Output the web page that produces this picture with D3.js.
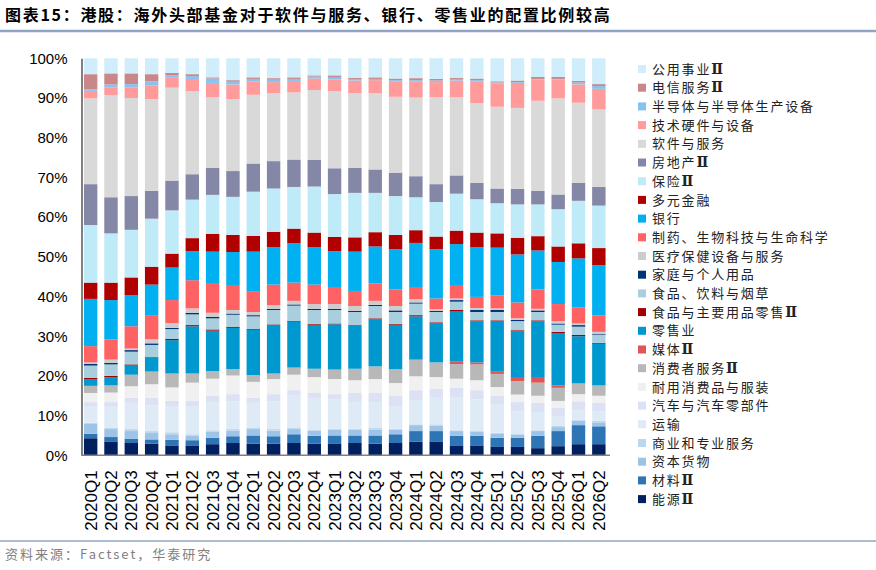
<!DOCTYPE html>
<html><head><meta charset="utf-8">
<script src="https://cdn.jsdelivr.net/npm/d3@7/dist/d3.min.js"></script>
<style>body{margin:0;background:#fff;}svg{display:block;}</style>
</head><body>
<svg id="c" width="876" height="570"></svg>
<script>
const categories = ["2020Q1","2020Q2","2020Q3","2020Q4","2021Q1","2021Q2","2021Q3","2021Q4","2022Q1","2022Q2","2022Q3","2022Q4","2023Q1","2023Q2","2023Q3","2023Q4","2024Q1","2024Q2","2024Q3","2024Q4","2025Q1","2025Q2","2025Q3","2025Q4","2026Q1","2026Q2"];
const yTicks = [0,10,20,30,40,50,60,70,80,90,100];

// series values (%)
const utilities   = [4.0,3.8,3.8,4.0,3.7,4.0,4.8,5.5,4.8,5.0,4.8,4.3,4.3,4.9,4.8,5.1,5.0,5.2,4.9,5.1,5.8,5.6,4.7,4.7,5.7,6.5];
const telecom     = [3.8,2.8,2.7,1.8,0.6,0.5,0.3,0.4,0.4,0.4,0.4,0.3,0.4,0.3,0.4,0.4,0.5,0.4,0.3,0.4,0.3,0.4,0.5,0.5,0.4,0.5];
const semis       = [0.4,0.7,0.8,1.0,0.6,0.7,1.1,0.7,0.7,0.6,0.5,0.5,0.6,0.4,0.3,0.4,0.4,0.4,0.4,0.4,0.3,0.2,0.2,0.2,0.5,0.7];
const techHw      = [1.9,2.0,2.7,3.5,2.5,3.1,3.6,3.7,3.3,2.8,2.9,2.9,3.0,3.2,3.3,3.8,4.0,3.8,4.2,5.4,5.8,6.3,5.3,4.7,4.6,5.2];
const software    = [21.6,25.7,24.7,23.1,23.4,20.9,17.8,18.1,17.3,17.1,16.9,17.6,19.4,18.8,19.2,19.1,19.8,21.9,19.7,20.1,20.6,20.4,22.7,24.2,20.2,19.5];
const realEstate  = [10.3,9.1,8.5,7.0,7.5,6.4,6.8,6.5,7.1,6.9,6.9,6.7,6.5,6.3,5.9,5.9,5.3,4.5,4.6,4.1,3.7,3.9,3.4,3.7,4.5,4.7];
const insurance   = [14.5,12.4,12.0,12.1,10.9,9.7,9.8,9.6,11.1,10.9,10.5,11.6,10.8,11.2,9.9,9.8,8.3,8.7,9.3,8.4,7.6,8.4,8.0,9.4,10.7,10.7];
const divFin      = [4.1,4.4,4.5,4.5,3.5,3.3,4.5,4.3,4.0,3.9,3.7,3.7,3.6,3.6,3.6,3.6,3.2,3.2,3.4,3.7,3.6,4.2,3.6,3.9,3.8,4.3];
const banks       = [11.9,9.9,7.8,7.7,8.2,7.3,7.9,8.3,10.1,9.4,9.9,9.4,9.0,9.9,9.3,10.1,11.1,12.4,10.3,12.5,12.0,12.1,9.8,10.6,12.4,12.7];
const pharma      = [4.1,5.1,5.6,6.1,5.8,7.1,7.5,6.3,5.1,5.2,4.6,4.9,4.3,3.8,4.4,4.2,3.1,2.7,3.4,2.8,3.3,4.0,4.9,4.3,4.0,4.1];
const healthEq    = [0.4,0.8,0.4,1.0,1.2,1.1,1.0,0.9,0.8,0.9,0.9,1.2,1.2,1.2,1.0,1.1,0.8,0.4,0.4,0.5,0.4,0.4,0.4,0.6,0.4,0.6];
const household   = [0.4,0.4,0.4,0.4,0.3,0.4,0.4,0.3,0.3,0.3,0.3,0.3,0.3,0.3,0.3,0.4,0.3,0.3,0.4,0.5,0.5,0.3,0.4,0.3,0.4,0.2];
const foodBev     = [3.1,2.9,3.2,3.1,2.5,2.7,2.8,3.0,3.2,3.6,3.9,3.5,3.4,3.2,3.1,3.0,2.9,2.6,2.1,2.1,2.1,2.3,2.1,1.8,2.1,2.0];
const foodRetail  = [0.3,0.3,0.3,0.2,0.3,0.3,0.3,0.3,0.2,0.1,0.2,0.2,0.2,0.1,0.2,0.2,0.3,0.2,0.4,0.2,0.3,0.3,0.2,0.3,0.3,0.2];
const retail      = [1.7,2.1,2.3,3.4,8.4,11.9,10.2,10.4,11.4,12.3,11.5,11.1,11.4,11.0,11.9,11.2,10.9,9.9,12.5,10.4,12.5,11.7,14.3,13.2,11.9,10.5];
const media       = [0,0,0,0,0,0,0,0,0,0,0,0,0,0,0,0,0,0,0.7,0.5,0.7,0.8,1.2,0.6,0,0];
const consumerSvc = [1.8,1.8,2.9,3.2,3.5,2.3,1.9,1.6,1.7,1.4,1.8,2.1,2.4,2.9,3.2,3.5,4.2,3.7,3.7,4.0,3.3,3.4,3.3,3.3,2.7,2.6];
const durables    = [2.3,2.4,2.9,3.4,3.4,4.6,4.3,4.7,4.0,3.8,3.9,4.0,3.8,3.2,3.5,3.1,3.5,3.0,2.3,2.5,2.2,1.9,1.8,1.8,1.8,1.7];
const autos       = [1.0,1.0,1.3,1.9,1.3,1.3,1.6,1.8,1.3,1.8,1.4,1.3,1.4,2.3,2.3,2.7,2.5,2.2,2.3,2.3,2.1,2.3,2.3,2.2,2.3,2.3];
const transport   = [4.2,5.5,6.6,6.5,6.6,7.1,7.1,7.0,6.2,7.0,8.0,7.9,7.3,6.7,6.5,5.7,6.1,6.7,8.4,7.9,7.2,5.6,4.6,2.3,2.3,2.3];
const commercial  = [0.3,0.3,0.5,0.5,0.5,0.3,0.4,0.4,0.4,0.4,0.4,0.3,0.2,0.2,0.4,0.2,0.2,0.4,0.2,0.2,0.2,0.3,0.2,0.3,0.3,0.4];
const capGoods    = [2.5,2.0,1.9,1.6,1.4,1.2,1.5,1.4,1.6,1.4,1.3,1.3,1.5,1.5,1.5,1.2,1.5,1.3,1.2,1.1,1.1,0.8,1.2,1.0,1.1,1.0];
const materials   = [1.1,1.1,1.1,1.1,1.4,1.3,1.6,1.7,2.1,1.9,2.2,2.0,2.0,1.9,2.1,2.2,2.7,2.6,2.4,2.4,2.3,2.3,3.1,3.8,4.8,4.5];
const energy      = [4.3,3.5,3.1,2.9,2.5,2.5,2.8,3.1,2.9,2.9,3.1,2.9,3.0,3.1,2.9,3.1,3.4,3.5,2.5,2.5,2.1,2.1,1.8,2.3,2.8,2.8];

// legend order (top of stack first)
const seriesNames = ["公用事业Ⅱ","电信服务Ⅱ","半导体与半导体生产设备","技术硬件与设备","软件与服务","房地产Ⅱ","保险Ⅱ","多元金融","银行","制药、生物科技与生命科学","医疗保健设备与服务","家庭与个人用品","食品、饮料与烟草","食品与主要用品零售Ⅱ","零售业","媒体Ⅱ","消费者服务Ⅱ","耐用消费品与服装","汽车与汽车零部件","运输","商业和专业服务","资本货物","材料Ⅱ","能源Ⅱ"];
const seriesValues = [utilities,telecom,semis,techHw,software,realEstate,insurance,divFin,banks,pharma,healthEq,household,foodBev,foodRetail,retail,media,consumerSvc,durables,autos,transport,commercial,capGoods,materials,energy];
const seriesColors = ["#CFEDFA","#C9878A","#86C3F0","#FF9B9B","#D9D9D9","#8488A6","#BFEAF8","#B00000","#00B0F0","#FF6262","#CCCCCC","#003478","#A9CFDF","#A00000","#0099CF","#E05555","#B8B8B8","#F0F0F0","#DCE2F4","#DEEAF6","#BDD7EE","#9DC3E6","#2E75B6","#002060"];

const svg = d3.select("#c");
const plotLeft = 81.5, plotRight = 609, plotTop = 58.3, plotBottom = 455.3;

// Title & frame lines
svg.append("text").attr("x",5).attr("y",21)
  .style("font-family","'Noto Sans CJK SC'").style("font-weight","bold").style("font-size","16px")
  .style("letter-spacing","1.7px").attr("fill","#000")
  .text("图表15：港股：海外头部基金对于软件与服务、银行、零售业的配置比例较高");
svg.append("line").attr("x1",0).attr("x2",876).attr("y1",31).attr("y2",31).attr("stroke","#8FA5C3").attr("stroke-width",2.5);
svg.append("line").attr("x1",0).attr("x2",876).attr("y1",541).attr("y2",541).attr("stroke","#8FA5C3").attr("stroke-width",1.5);
svg.append("text").attr("x",5).attr("y",559)
  .style("font-family","'Noto Sans CJK SC'").style("font-size","13px").style("letter-spacing","2px").attr("fill","#808080")
  .text("资料来源：Factset，华泰研究");

// scales
const x = d3.scaleBand().domain(categories).range([plotLeft-1, plotRight]).paddingInner(0.34).paddingOuter(0.17);
const y = d3.scaleLinear().domain([0,100]).range([plotBottom, plotTop]);

// table
const table = categories.map((c,i) => {
  const row = {cat:c};
  seriesNames.forEach((n,k) => row[n] = seriesValues[k][i]);
  return row;
});
const keysBottomUp = seriesNames.slice().reverse();
const colorOf = d3.scaleOrdinal().domain(seriesNames).range(seriesColors);
const stacked = d3.stack().keys(keysBottomUp)(table);

svg.append("g").selectAll("g").data(stacked).join("g")
  .attr("fill", d => colorOf(d.key))
  .selectAll("rect").data(d => d).join("rect")
  .attr("x", d => x(d.data.cat))
  .attr("width", x.bandwidth())
  .attr("y", d => y(d[1]))
  .attr("height", d => Math.max(0, y(d[0]) - y(d[1])));

// axes
const yAxis = d3.axisLeft(y).tickValues(yTicks).tickFormat(d => d + "%").tickSize(0).tickPadding(14);
const gy = svg.append("g").attr("transform", `translate(${plotLeft},0)`).call(yAxis);
gy.select(".domain").attr("stroke","#808080").attr("stroke-width",2);
gy.selectAll("text").style("font-family","'Liberation Sans', Arial, sans-serif").style("font-size","15px").attr("fill","#000");

const xAxis = d3.axisBottom(x).tickSize(0).tickPadding(0);
const gx = svg.append("g").attr("transform", `translate(0,${plotBottom})`).call(xAxis);
gx.select(".domain").attr("stroke","#808080").attr("stroke-width",1.5).attr("d", `M${plotLeft},0H${plotRight+1}`);
gx.selectAll("text")
  .style("font-family","'Liberation Sans', Arial, sans-serif").style("font-size","17px").attr("fill","#000")
  .attr("text-anchor","end").attr("dy","0.35em").attr("y",0)
  .attr("transform","translate(0,15) rotate(-90)");

// legend
const lg = svg.append("g");
seriesNames.forEach((n,i) => {
  const yy = 69 + i*18.7;
  lg.append("rect").attr("x",638).attr("y",yy-4).attr("width",8).attr("height",8).attr("fill",seriesColors[i]);
  const t = lg.append("text").attr("x",652).attr("y",yy).attr("dy","0.36em")
    .style("font-family","'Noto Sans CJK SC'").style("font-size","13px").style("letter-spacing","1.8px")
    .attr("fill","#222");
  const base = n.replace("Ⅱ","");
  t.append("tspan").text(base);
  if (n.includes("Ⅱ")) {
    t.append("tspan").style("font-family","'DejaVu Serif', serif").style("font-weight","bold").style("font-size","14px").text("Ⅱ");
  }
});
</script>
</body></html>
